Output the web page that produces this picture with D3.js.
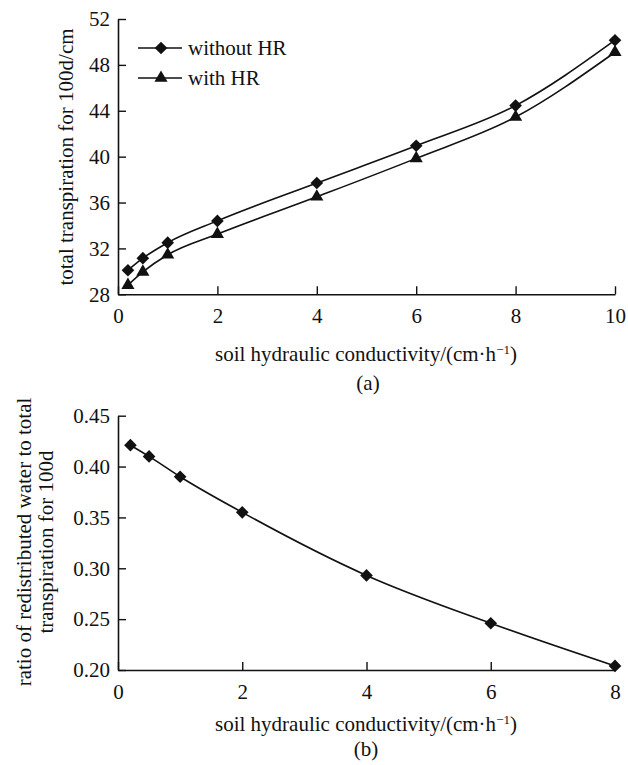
<!DOCTYPE html>
<html><head><meta charset="utf-8">
<script src="https://cdn.jsdelivr.net/npm/d3@7"></script>
<style>
body{margin:0;background:#fff;}
svg{display:block;}
text{font-family:"Liberation Serif","Times New Roman",serif;font-size:21px;fill:#111;}
</style></head><body>
<svg id="c" width="628" height="765"></svg>
<script>
// Data
const conductivityA = [0.2, 0.5, 1, 2, 4, 6, 8, 10];
const withoutHR = [30.1, 31.15, 32.5, 34.4, 37.7, 40.95, 44.45, 50.15];
const withHR = [28.8, 29.95, 31.45, 33.25, 36.5, 39.85, 43.45, 49.1];
const xTicksA = [0, 2, 4, 6, 8, 10];
const yTicksA = [28, 32, 36, 40, 44, 48, 52];

const conductivityB = [0.2, 0.5, 1, 2, 4, 6, 8];
const ratioB = [0.421, 0.41, 0.39, 0.355, 0.293, 0.246, 0.204];
const xTicksB = [0, 2, 4, 6, 8];
const yTicksB = [0.20, 0.25, 0.30, 0.35, 0.40, 0.45];

const svg = d3.select("#c");
const INK = "#111";
const FONT = '"Liberation Serif","Times New Roman",serif';

function drawAxes(g, x, y, xTicks, yTicks, yFmt) {
  const xa = g.append("g").attr("transform", `translate(0,${y.range()[0]})`)
    .call(d3.axisBottom(x).tickValues(xTicks).tickSizeInner(-8).tickSizeOuter(0).tickPadding(14).tickFormat(d3.format("d")));
  const ya = g.append("g").attr("transform", `translate(${x.range()[0]},0)`)
    .call(d3.axisLeft(y).tickValues(yTicks).tickSizeInner(-8).tickSizeOuter(0).tickPadding(8).tickFormat(yFmt));
  [xa, ya].forEach(a => {
    a.attr("font-family", FONT).attr("font-size", 21);
    a.select(".domain").attr("stroke", INK).attr("stroke-width", 1.6);
    a.selectAll(".tick line").attr("stroke", INK).attr("stroke-width", 1.4);
    a.selectAll(".tick text").attr("fill", INK);
  });
  xa.selectAll(".tick text").attr("dy", "0.71em");
}

const diamondType = { draw(ctx, size) { const r = Math.sqrt(size / 2);
  ctx.moveTo(0, -r); ctx.lineTo(r, 0); ctx.lineTo(0, r); ctx.lineTo(-r, 0); ctx.closePath(); } };
const diamond = d3.symbol().type(diamondType).size(80);
const triangle = d3.symbol().type(d3.symbolTriangle).size(75);

function drawSeries(g, x, y, xs, ys, sym) {
  const pts = xs.map((v, i) => [v, ys[i]]);
  g.append("path").datum(pts)
    .attr("fill", "none").attr("stroke", INK).attr("stroke-width", 1.6)
    .attr("d", d3.line().x(d => x(d[0])).y(d => y(d[1])).curve(d3.curveMonotoneX));
  g.selectAll(null).data(pts).enter().append("path")
    .attr("d", sym).attr("fill", INK)
    .attr("transform", d => `translate(${x(d[0])},${y(d[1])})`);
}

function xLabel(g, yPos) {
  const t = g.append("text").attr("x", 366).attr("y", yPos).attr("text-anchor", "middle");
  t.append("tspan").text("soil hydraulic conductivity/(cm·h");
  t.append("tspan").attr("baseline-shift", "super").style("font-size", "13px").text("−1");
  t.append("tspan").text(")");
}

// ---- Chart (a)
const xA = d3.scaleLinear().domain([0, 10]).range([118, 615]);
const yA = d3.scaleLinear().domain([28, 52]).range([294.3, 19]);
const gA = svg.append("g");
drawSeries(gA, xA, yA, conductivityA, withoutHR, diamond);
drawSeries(gA, xA, yA, conductivityA, withHR, triangle);
drawAxes(gA, xA, yA, xTicksA, yTicksA, d3.format("d"));

gA.append("text").attr("transform", "translate(73,157) rotate(-90)")
  .attr("text-anchor", "middle").text("total transpiration for 100d/cm");
xLabel(gA, 361);
gA.append("text").attr("x", 368).attr("y", 390).attr("text-anchor", "middle").text("(a)");

// legend
const legend = [["without HR", diamond, 48], ["with HR", triangle, 78]];
legend.forEach(([lab, sym, ly]) => {
  gA.append("line").attr("x1", 138).attr("x2", 182).attr("y1", ly).attr("y2", ly)
    .attr("stroke", INK).attr("stroke-width", 1.6);
  gA.append("path").attr("d", sym).attr("fill", INK).attr("transform", `translate(161,${ly})`);
  gA.append("text").attr("x", 188).attr("y", ly + 7).text(lab);
});

// ---- Chart (b)
const xB = d3.scaleLinear().domain([0, 8]).range([118, 615]);
const yB = d3.scaleLinear().domain([0.20, 0.45]).range([670, 415.7]);
const gB = svg.append("g");
drawSeries(gB, xB, yB, conductivityB, ratioB, diamond);
drawAxes(gB, xB, yB, xTicksB, yTicksB, d3.format(".2f"));

const yl = gB.append("text").attr("transform", "translate(0,542) rotate(-90)").attr("text-anchor", "middle");
yl.append("tspan").attr("x", 0).attr("y", 31).text("ratio of redistributed water to total");
yl.append("tspan").attr("x", 0).attr("y", 53).text("transpiration for 100d");
xLabel(gB, 731);
gB.append("text").attr("x", 366).attr("y", 756).attr("text-anchor", "middle").text("(b)");
</script></body></html>
